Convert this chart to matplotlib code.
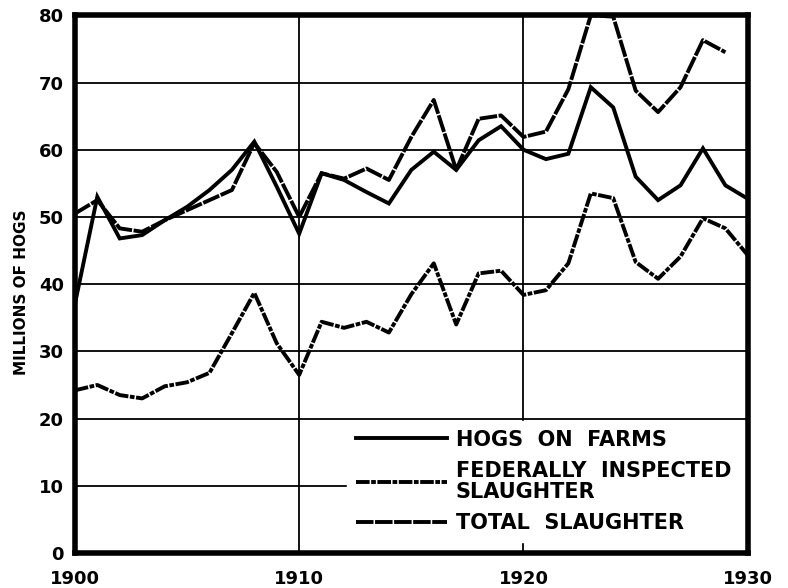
import matplotlib.pyplot as plt
from matplotlib.lines import Line2D

years = list(range(1900, 1931))

# millions of hogs
hogs_on_farms = [37.0, 53.0, 46.8, 47.3, 49.5, 51.5, 54.0, 57.0, 61.2, 54.5, 47.5,
                 56.5, 55.5, 53.7, 52.0, 57.0, 59.7, 57.0, 61.4, 63.5, 60.0,
                 58.6, 59.4, 69.3, 66.3, 56.0, 52.5, 54.7, 60.2, 54.7, 52.7]
federally_inspected = [24.2, 25.0, 23.5, 23.0, 24.8, 25.4, 26.8, 32.7, 38.7, 31.2, 26.5,
                       34.4, 33.5, 34.4, 32.8, 38.5, 43.1, 34.0, 41.6, 42.0, 38.4,
                       39.1, 43.1, 53.5, 52.8, 43.3, 40.8, 44.1, 49.8, 48.3, 44.3]
total_years = list(range(1900, 1930))
total_slaughter = [50.5, 52.5, 48.3, 47.8, 49.5, 51.0, 52.5, 54.0, 61.0, 56.7, 50.0,
                   56.5, 55.7, 57.2, 55.5, 61.9, 67.4, 57.0, 64.6, 65.1, 61.9,
                   62.7, 69.0, 80.0, 79.8, 68.8, 65.6, 69.3, 76.3, 74.5]

labels = ["HOGS  ON  FARMS", "FEDERALLY  INSPECTED\nSLAUGHTER", "TOTAL  SLAUGHTER"]

plt.rcParams["font.family"] = "DejaVu Sans"
plt.rcParams["font.weight"] = "bold"

fig = plt.figure(figsize=(7.88, 5.88), dpi=100)
ax = fig.add_axes([0.095, 0.0595, 0.854, 0.9145])

lw = 2.8
dash_total = (0, (4.5, 0.4))
dash_fed = (0, (3.5, 0.4, 1.2, 0.4))

ax.plot(years, hogs_on_farms, color="k", lw=lw, solid_joinstyle="miter")
ax.plot(years, federally_inspected, color="k", lw=lw, linestyle=dash_fed)
ax.plot(total_years, total_slaughter, color="k", lw=lw, linestyle=dash_total)

ax.set_xlim(1900, 1930)
ax.set_ylim(0, 80)
ax.set_xticks([1900, 1910, 1920, 1930])
ax.set_yticks(range(0, 81, 10))
ax.tick_params(length=0, labelsize=13)
ax.tick_params(axis="x", pad=12)
ax.tick_params(axis="y", pad=8)
for lab in ax.get_xticklabels() + ax.get_yticklabels():
    lab.set_fontweight("bold")

ax.grid(True, color="k", lw=1.3)
for s in ax.spines.values():
    s.set_linewidth(4)
    s.set_zorder(6)

ax.set_ylabel("MILLIONS OF HOGS", fontsize=11, fontweight="bold")
ax.yaxis.set_label_coords(-0.068, 0.485)

handles = [Line2D([], [], color="k", lw=lw),
           Line2D([], [], color="k", lw=lw, linestyle=dash_fed),
           Line2D([], [], color="k", lw=lw, linestyle=dash_total)]
leg = ax.legend(handles, labels, loc="upper left", bbox_to_anchor=(0.405, 0.0, 0.595, 0.245),
                mode="expand", frameon=True, facecolor="white", edgecolor="white",
                framealpha=1, fancybox=False, borderaxespad=0, borderpad=0.4,
                handlelength=4.4, handletextpad=0.4, labelspacing=0.55,
                prop={"size": 15, "weight": "bold"})
leg.get_texts()[1].set_linespacing(1.05)

fig.savefig("out.png", dpi=100)
